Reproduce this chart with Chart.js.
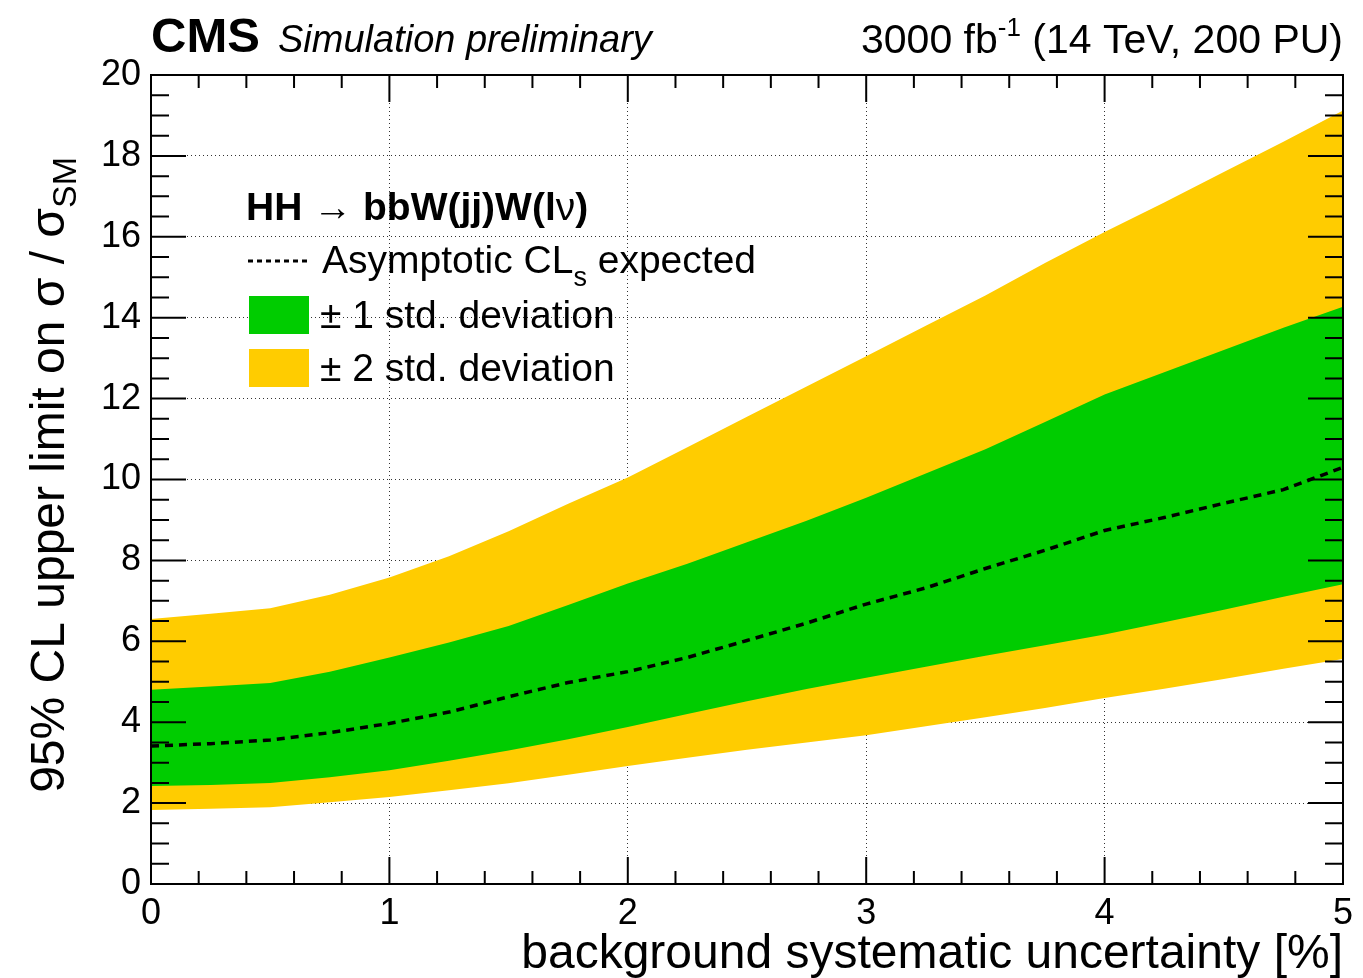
<!DOCTYPE html>
<html>
<head>
<meta charset="utf-8">
<script src="https://cdn.jsdelivr.net/npm/chart.js@4.4.0/dist/chart.umd.min.js"></script>
<style>
  html, body { margin: 0; padding: 0; background: #fff; }
</style>
</head>
<body>
<canvas id="limitChart" width="1363" height="978"></canvas>
<script>
// background systematic uncertainty [%]
const sysUnc   = [0, 0.25, 0.5, 0.75, 1, 1.25, 1.5, 1.75, 2, 2.25, 2.5, 2.75, 3, 3.25, 3.5, 3.75, 4, 4.25, 4.5, 4.75, 5];
// expected limit and bands (sigma / sigma_SM)
const expected = [3.41, 3.47, 3.56, 3.74, 3.97, 4.25, 4.63, 4.98, 5.25, 5.6, 6.02, 6.45, 6.92, 7.32, 7.8, 8.25, 8.74, 9.06, 9.41, 9.75, 10.3];
const plus1    = [4.8, 4.88, 4.97, 5.25, 5.6, 5.97, 6.38, 6.9, 7.43, 7.92, 8.45, 8.98, 9.55, 10.15, 10.75, 11.42, 12.1, 12.65, 13.2, 13.75, 14.27];
const minus1   = [2.42, 2.45, 2.5, 2.64, 2.81, 3.05, 3.3, 3.58, 3.88, 4.2, 4.52, 4.82, 5.1, 5.37, 5.64, 5.9, 6.17, 6.47, 6.78, 7.1, 7.41];
const plus2    = [6.55, 6.68, 6.82, 7.15, 7.58, 8.1, 8.72, 9.4, 10.05, 10.8, 11.55, 12.3, 13.05, 13.8, 14.55, 15.35, 16.12, 16.85, 17.6, 18.35, 19.12];
const minus2   = [1.83, 1.86, 1.9, 2.02, 2.15, 2.32, 2.49, 2.7, 2.92, 3.12, 3.32, 3.5, 3.68, 3.9, 4.12, 4.35, 4.6, 4.83, 5.07, 5.32, 5.56];

const xTicks = [0, 1, 2, 3, 4, 5];
const yTicks = [0, 2, 4, 6, 8, 10, 12, 14, 16, 18, 20];

const FONT = '"Liberation Sans", Helvetica, Arial, sans-serif';
const GREEN = '#00cc00';
const YELLOW = '#ffcc00';

function pts(vals) {
    return sysUnc.map((x, i) => ({ x: x, y: vals[i] }));
}

// draw a run of text pieces (font / vertical shift) starting at x
function drawPieces(ctx, x, y, pieces) {
    pieces.forEach(p => {
        ctx.font = p.font;
        ctx.fillText(p.t, x, y + (p.dy || 0));
        x += ctx.measureText(p.t).width;
    });
    return x;
}
function piecesWidth(ctx, pieces) {
    let w = 0;
    pieces.forEach(p => { ctx.font = p.font; w += ctx.measureText(p.t).width; });
    return w;
}

// ROOT-like frame, inner ticks, titles and legend
const rootStyle = {
    id: 'rootStyle',
    afterDatasetsDraw(chart) {
        const { ctx, chartArea: a, scales: { x, y } } = chart;
        ctx.save();
        ctx.strokeStyle = '#000';
        ctx.lineWidth = 2;
        ctx.beginPath();
        // x ticks (bottom and top), minor every 0.2
        for (let k = 0; k <= 25; k++) {
            const px = x.getPixelForValue(k / 5);
            const len = (k % 5 === 0) ? 27 : 13;
            ctx.moveTo(px, a.bottom); ctx.lineTo(px, a.bottom - len);
            ctx.moveTo(px, a.top); ctx.lineTo(px, a.top + len);
        }
        // y ticks (left and right), minor every 0.5
        for (let k = 0; k <= 40; k++) {
            const py = y.getPixelForValue(k / 2);
            const len = (k % 4 === 0) ? 35 : 18;
            ctx.moveTo(a.left, py); ctx.lineTo(a.left + len, py);
            ctx.moveTo(a.right, py); ctx.lineTo(a.right - len, py);
        }
        ctx.stroke();
        ctx.strokeRect(a.left, a.top, a.right - a.left, a.bottom - a.top);
        ctx.restore();
    },
    afterDraw(chart) {
        const { ctx, chartArea: a } = chart;
        ctx.save();
        ctx.fillStyle = '#000';
        ctx.textBaseline = 'alphabetic';
        ctx.textAlign = 'left';

        // header
        ctx.font = 'bold 49px ' + FONT;
        ctx.fillText('CMS', 151, 52);
        ctx.font = 'italic 38px ' + FONT;
        ctx.fillText('Simulation preliminary', 278, 52);
        const lumi = [
            { t: '3000 fb', font: '41px ' + FONT },
            { t: '-1', font: '26px ' + FONT, dy: -17 },
            { t: ' (14 TeV, 200 PU)', font: '41px ' + FONT }
        ];
        drawPieces(ctx, a.right - piecesWidth(ctx, lumi), 53, lumi);

        // x axis title
        ctx.font = '48px ' + FONT;
        ctx.textAlign = 'right';
        ctx.fillText('background systematic uncertainty [%]', a.right, 968);
        ctx.textAlign = 'left';

        // y axis title, rotated, end aligned near top
        const ytitle = [
            { t: '95% CL upper limit on \u03c3 / \u03c3', font: '48px ' + FONT },
            { t: 'SM', font: '34px ' + FONT, dy: 12 }
        ];
        const yw = piecesWidth(ctx, ytitle);
        ctx.save();
        ctx.translate(64, 157 + yw);
        ctx.rotate(-Math.PI / 2);
        drawPieces(ctx, 0, 0, ytitle);
        ctx.restore();

        // legend
        drawPieces(ctx, 246, 220, [
            { t: 'HH ', font: 'bold 39px ' + FONT },
            { t: '\u2192 ', font: '39px ' + FONT },
            { t: 'bbW(jj)W(l', font: 'bold 39px ' + FONT },
            { t: '\u03bd', font: '39px ' + FONT },
            { t: ')', font: 'bold 39px ' + FONT }
        ]);
        ctx.strokeStyle = '#000';
        ctx.lineWidth = 3;
        ctx.setLineDash([5, 4]);
        ctx.beginPath();
        ctx.moveTo(248, 261); ctx.lineTo(309, 261);
        ctx.stroke();
        ctx.setLineDash([]);
        drawPieces(ctx, 322, 273, [
            { t: 'Asymptotic CL', font: '39px ' + FONT },
            { t: 's', font: '27px ' + FONT, dy: 13 },
            { t: ' expected', font: '39px ' + FONT }
        ]);
        ctx.fillStyle = GREEN;
        ctx.fillRect(249, 296, 60, 38);
        ctx.fillStyle = YELLOW;
        ctx.fillRect(249, 349, 60, 38);
        ctx.fillStyle = '#000';
        ctx.font = '39px ' + FONT;
        ctx.fillText('\u00b1 1 std. deviation', 320, 328);
        ctx.fillText('\u00b1 2 std. deviation', 320, 381);

        ctx.restore();
    }
};

const ctx = document.getElementById('limitChart').getContext('2d');
const limitChart = new Chart(ctx, {
    type: 'line',
    data: {
        datasets: [
            {
                label: 'Asymptotic CLs expected',
                data: pts(expected),
                borderColor: '#000',
                borderWidth: 3.5,
                borderDash: [8, 6],
                pointRadius: 0,
                fill: false
            },
            {
                label: '+1 std. deviation',
                data: pts(plus1),
                borderWidth: 0,
                pointRadius: 0,
                backgroundColor: GREEN,
                fill: '+1'
            },
            {
                label: '-1 std. deviation',
                data: pts(minus1),
                borderWidth: 0,
                pointRadius: 0,
                fill: false
            },
            {
                label: '+2 std. deviation',
                data: pts(plus2),
                borderWidth: 0,
                pointRadius: 0,
                backgroundColor: YELLOW,
                fill: '+1'
            },
            {
                label: '-2 std. deviation',
                data: pts(minus2),
                borderWidth: 0,
                pointRadius: 0,
                fill: false
            }
        ]
    },
    options: {
        responsive: false,
        animation: false,
        devicePixelRatio: 1,
        layout: { padding: { top: 75, right: 20, left: 0, bottom: 0 } },
        plugins: {
            legend: { display: false },
            tooltip: { enabled: false }
        },
        scales: {
            x: {
                type: 'linear',
                min: 0,
                max: 5,
                afterFit: s => { s.height = 94; },
                afterBuildTicks: s => { s.ticks = xTicks.map(v => ({ value: v })); },
                ticks: {
                    color: '#000',
                    font: { family: FONT, size: 36 },
                    padding: 8,
                    maxRotation: 0,
                    autoSkip: false
                },
                grid: { color: '#333', lineWidth: 1, drawTicks: false },
                border: { display: false, dash: [1, 3] }
            },
            y: {
                type: 'linear',
                min: 0,
                max: 20,
                afterFit: s => { s.width = 151; },
                afterBuildTicks: s => { s.ticks = yTicks.map(v => ({ value: v })); },
                ticks: {
                    color: '#000',
                    font: { family: FONT, size: 36 },
                    padding: 10,
                    autoSkip: false
                },
                grid: { color: '#333', lineWidth: 1, drawTicks: false },
                border: { display: false, dash: [1, 3] }
            }
        }
    },
    plugins: [rootStyle]
});
</script>
</body>
</html>
